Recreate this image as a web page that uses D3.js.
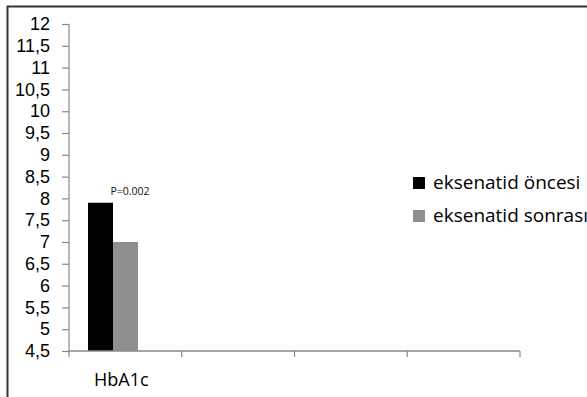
<!DOCTYPE html>
<html><head><meta charset="utf-8">
<script src="https://cdn.jsdelivr.net/npm/d3@7"></script>
<style>body{margin:0;background:#fff}svg{display:block}</style>
</head><body>
<script>
const categories = ["HbA1c", "", "", ""];
const seriesNames = ["eksenatid öncesi", "eksenatid sonrası"];
const seriesColors = ["#000000", "#8f8f8f"];
const seriesValues = [[7.9], [7.0]];
const yTicks = [4.5,5,5.5,6,6.5,7,7.5,8,8.5,9,9.5,10,10.5,11,11.5,12];
const annotation = "P=0.002";

const W = 587, H = 397;
const svg = d3.select("body").append("svg").attr("width", W).attr("height", H);
const font = "'Open Sans', sans-serif";
const tickFont = "'Liberation Sans', Arial, sans-serif";

// outer frame (top and left visible)
svg.append("path").attr("d", `M7.5,${H} V6.5 H${W}`).attr("fill","none").attr("stroke","#333").attr("stroke-width",2);

const x0 = 69, x1 = 520, yTop = 24, yBot = 351;
const x = d3.scaleBand().domain(d3.range(categories.length)).range([x0, x1]);
const y = d3.scaleLinear().domain([4.5, 12]).range([yBot, yTop]);
const xs = d3.scaleBand().domain(d3.range(seriesNames.length)).range([19, 69]);

// y axis
const yAxis = svg.append("g").attr("transform", `translate(${x0},0)`)
  .call(d3.axisLeft(y).tickValues(yTicks).tickSize(7).tickPadding(12)
    .tickFormat(d => String(d).replace(".", ",")));
yAxis.select(".domain").attr("stroke","#888").attr("stroke-width",1.2).attr("d", `M0,${yTop}V${yBot}`);
yAxis.selectAll(".tick line").attr("stroke","#888").attr("stroke-width",1.2);
yAxis.selectAll("text").attr("font-family", tickFont).attr("font-size", 18).attr("fill","#000");

// bars
seriesValues.forEach((vals, si) => {
  svg.append("g").selectAll("rect").data(vals).join("rect")
    .attr("x", (d,i) => x(i) + xs(si))
    .attr("width", xs.bandwidth())
    .attr("y", d => y(d))
    .attr("height", d => y(4.5) - y(d))
    .attr("fill", seriesColors[si]);
});

// x axis
const xAxis = svg.append("g").attr("transform", `translate(0,${yBot})`);
xAxis.append("line").attr("x1", x0).attr("x2", x1).attr("stroke","#888").attr("stroke-width",1.5);
const edges = d3.range(categories.length + 1).map(i => i < categories.length ? x(i) : x1);
xAxis.selectAll(".tk").data(edges).join("line").attr("class","tk")
  .attr("x1", d => d).attr("x2", d => d).attr("y1", 0).attr("y2", 6)
  .attr("stroke","#888").attr("stroke-width",1.2);
xAxis.selectAll(".lbl").data(categories).join("text").attr("class","lbl")
  .attr("x", (d,i) => x(i) + x.bandwidth()/2 - 4).attr("y", 35)
  .attr("text-anchor","middle").attr("font-family", font).attr("font-size", 18).attr("fill","#000")
  .text(d => d);

// annotation
svg.append("text").attr("x", x(0) + xs(0) + xs.bandwidth() + 17).attr("y", y(7.9) - 8)
  .attr("text-anchor","middle").attr("font-family", font).attr("font-size", 10.5).attr("fill","#111")
  .text(annotation);

// legend
const lg = svg.append("g").attr("transform", "translate(413,177)");
seriesNames.forEach((n, i) => {
  lg.append("rect").attr("x", 0).attr("y", i*33).attr("width", 12).attr("height", 12).attr("fill", seriesColors[i]);
  lg.append("text").attr("x", 20).attr("y", i*33 + 12).attr("font-family", font).attr("font-size", 19).attr("fill","#000").text(n);
});
</script>
</body></html>
